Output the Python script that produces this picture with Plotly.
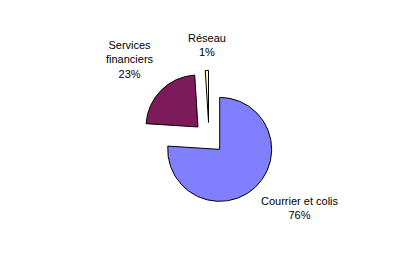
import plotly.graph_objects as go

labels = ["Courrier et colis", "Services financiers", "Réseau"]
values = [76, 23, 1]
colors = ["#8080FF", "#7D1B5A", "#FFFFAA"]
pulls = [0.3, 0.3, 0.3]

fig = go.Figure(go.Pie(
    labels=labels, values=values, sort=False, direction="clockwise", rotation=0,
    pull=pulls, textinfo="none", hoverinfo="none",
    marker=dict(colors=colors, line=dict(color="black", width=1)),
    domain=dict(x=[0.3367, 0.6586], y=[0.2524, 0.744]),
    showlegend=False,
))

font = dict(family="Liberation Sans, Arial, sans-serif", size=11, color="black")
ann = [
    ("Services<br>financiers<br>23%", 130, 59),
    ("Réseau<br>1%", 207, 45),
    ("Courrier et colis<br>76%", 300, 208),
]
for t, x, y in ann:
    fig.add_annotation(text=t, x=x / 420, y=1 - y / 275, xref="paper", yref="paper",
                       showarrow=False, font=font, align="center",
                       xanchor="center", yanchor="middle")

fig.update_layout(width=420, height=275, margin=dict(l=0, r=0, t=0, b=0),
                  paper_bgcolor="white", plot_bgcolor="white")
fig.write_html("out.html")
